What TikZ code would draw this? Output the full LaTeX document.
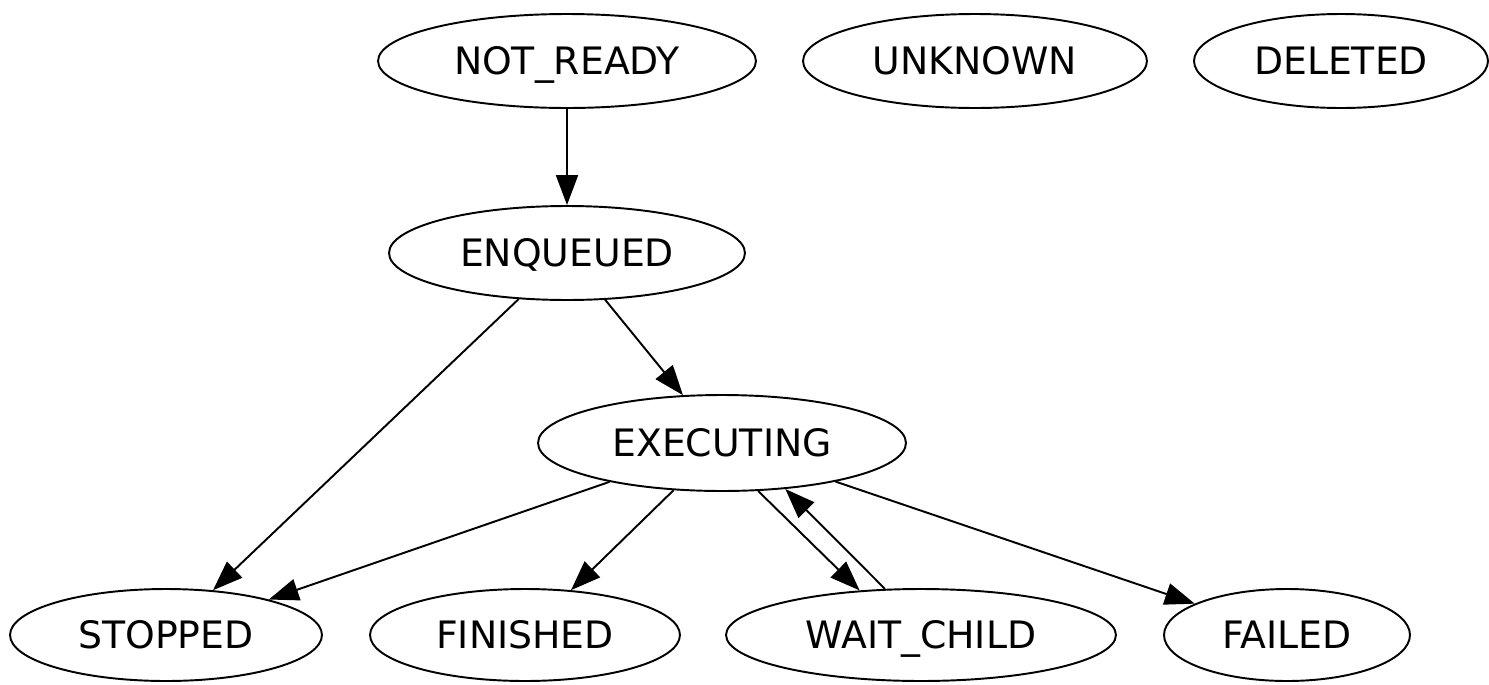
\documentclass[tikz,border=0pt]{standalone}
\usepackage{fontspec}
\setmainfont{DejaVu Sans}
\usepackage{tikz}
\usetikzlibrary{shapes.geometric, arrows.meta}
\tikzstyle{state} = [ellipse, draw=black, line width=1.1pt, inner sep=0pt, minimum height=1.88cm, font=\fontsize{21.5}{25}\selectfont, text height=15.7pt, text depth=0pt, text centered]
\tikzstyle{arrow} = [line width=1.1pt, -{Triangle[length=17pt, width=12.5pt]}]

\begin{document}
\begin{tikzpicture}[x=0.02cm, y=-0.02cm]
		\useasboundingbox (0,0) rectangle (1489,684);
		\node (notready) [state, minimum width=7.56cm] at (567,61) {NOT\_READY};
		\node (unknown) [state, minimum width=6.88cm] at (975,61) {UNKNOWN};
		\node (deleted) [state, minimum width=5.88cm] at (1341,61) {DELETED};
		\node (enqueued) [state, minimum width=7.12cm] at (567,253) {ENQUEUED};
		\node (executing) [state, minimum width=7.36cm, minimum height=1.92cm] at (722,443) {EXECUTING};
		\node (stopped) [state, minimum width=6.24cm, minimum height=1.84cm] at (166,635) {STOPPED};
		\node (finished) [state, minimum width=6.2cm, minimum height=1.84cm] at (525,635) {FINISHED};
		\node (waitchild) [state, minimum width=7.8cm, minimum height=1.84cm] at (921,635) {WAIT\_CHILD};
		\node (failed) [state, minimum width=4.92cm, minimum height=1.84cm] at (1287,635) {FAILED};
		\draw [arrow] (notready) -- (enqueued);
		\draw [arrow] (enqueued) -- (stopped);
		\draw [arrow] (enqueued) -- (executing);
		\draw [arrow] (executing) -- (stopped);
		\draw [arrow] (executing) -- (finished);
		\draw [arrow] (executing.-53) -- (waitchild.144);
		\draw [arrow] (waitchild.128) -- (executing.-36);
		\draw [arrow] (executing) -- (failed);
		\end{tikzpicture}
\end{document}
